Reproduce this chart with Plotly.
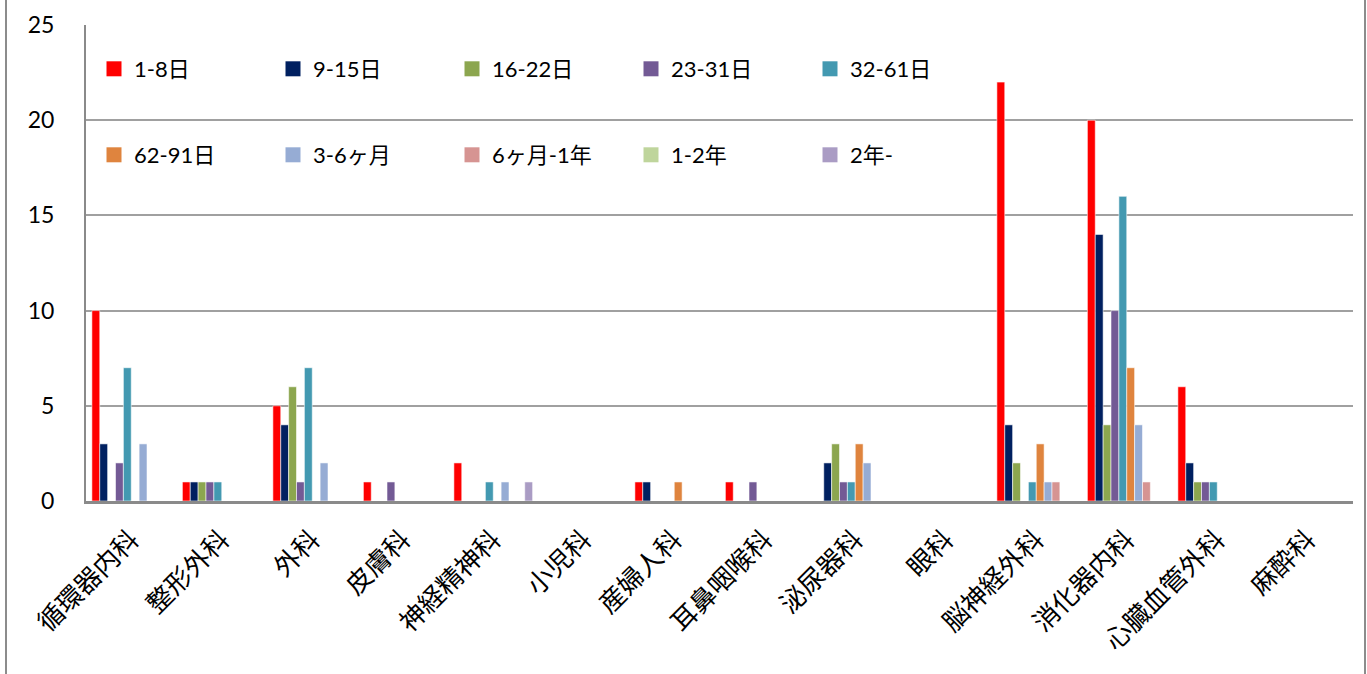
import plotly.graph_objects as go

categories = ["循環器内科", "整形外科", "外科", "皮膚科", "神経精神科", "小児科", "産婦人科",
              "耳鼻咽喉科", "泌尿器科", "眼科", "脳神経外科", "消化器内科", "心臓血管外科", "麻酔科"]

series_names = ["1-8日", "9-15日", "16-22日", "23-31日", "32-61日",
                "62-91日", "3-6ヶ月", "6ヶ月-1年", "1-2年", "2年-"]

s_1_8 =     [10, 1, 5, 1, 2, 0, 1, 1, 0, 0, 22, 20, 6, 0]
s_9_15 =    [3, 1, 4, 0, 0, 0, 1, 0, 2, 0, 4, 14, 2, 0]
s_16_22 =   [0, 1, 6, 0, 0, 0, 0, 0, 3, 0, 2, 4, 1, 0]
s_23_31 =   [2, 1, 1, 1, 0, 0, 0, 1, 1, 0, 0, 10, 1, 0]
s_32_61 =   [7, 1, 7, 0, 1, 0, 0, 0, 1, 0, 1, 16, 1, 0]
s_62_91 =   [0, 0, 0, 0, 0, 0, 1, 0, 3, 0, 3, 7, 0, 0]
s_3_6m =    [3, 0, 2, 0, 1, 0, 0, 0, 2, 0, 1, 4, 0, 0]
s_6m_1y =   [0, 0, 0, 0, 0, 0, 0, 0, 0, 0, 1, 1, 0, 0]
s_1_2y =    [0, 0, 0, 0, 0, 0, 0, 0, 0, 0, 0, 0, 0, 0]
s_2y_plus = [0, 0, 0, 0, 1, 0, 0, 0, 0, 0, 0, 0, 0, 0]

values = [s_1_8, s_9_15, s_16_22, s_23_31, s_32_61, s_62_91, s_3_6m, s_6m_1y, s_1_2y, s_2y_plus]
colors = ["#FF0000", "#002060", "#8CA64F", "#735A95", "#4399B1",
          "#DF843E", "#96ACD4", "#D69492", "#BFD59C", "#AA9CC4"]

y_ticks = [0, 5, 10, 15, 20, 25]

FONT = "Lato, 'Noto Sans CJK JP', sans-serif"
CJK = "'Noto Sans CJK JP', sans-serif"

fig = go.Figure()
for i, (name, vals, col) in enumerate(zip(series_names, values, colors)):
    leg = "legend" if i < 5 else "legend2"
    fig.add_trace(go.Bar(
        x=categories, y=vals, name=name, legendgroup=name, showlegend=False,
        marker=dict(color=col, line=dict(color="rgba(255,255,255,0.55)", width=1)),
    ))
    # legend entry with a larger square swatch
    fig.add_trace(go.Scatter(
        x=[None], y=[None], mode="markers", name=name, legendgroup=name,
        marker=dict(symbol="square", size=15, color=col), legend=leg,
    ))

W, H = 1367, 674
L, R, T, B = 86, 14, 25, 173
pw = W - L - R
ph = H - T - B

def px_x(x):
    return (x - L) / pw

def px_y(y):
    return (H - B - y) / ph

legend_common = dict(
    orientation="h", xanchor="left", yanchor="middle",
    entrywidth=134, entrywidthmode="pixels",
    font=dict(family=FONT, size=22, color="#000000"),
    bgcolor="rgba(0,0,0,0)", borderwidth=0, itemclick=False,
    traceorder="normal",
)

fig.update_layout(
    width=W, height=H,
    margin=dict(l=L, r=R, t=T, b=B, autoexpand=False),
    paper_bgcolor="#FFFFFF", plot_bgcolor="#FFFFFF",
    barmode="group", bargap=0.13, bargroupgap=0,
    legend=dict(x=px_x(94), y=px_y(69), **legend_common),
    legend2=dict(x=px_x(94), y=px_y(155), **legend_common),
    xaxis=dict(
        type="category", tickangle=-45,
        tickfont=dict(family=CJK, size=26, color="#000000"),
        showgrid=False, showline=True, linecolor="#8A8A8A", linewidth=3,
        ticks="", zeroline=False, ticklabelstandoff=10,
    ),
    yaxis=dict(
        range=[0, 25], tickvals=y_ticks, ticktext=[str(v) for v in y_ticks],
        tickfont=dict(family=FONT, size=23, color="#000000"),
        showgrid=True, gridcolor="#A0A0A0", gridwidth=2,
        showline=True, linecolor="#8A8A8A", linewidth=2,
        zeroline=False, ticks="", ticklabelstandoff=25,
    ),
    shapes=[
        dict(type="rect", xref="paper", yref="paper",
             x0=px_x(6), x1=px_x(1365), y0=px_y(H + 20), y1=px_y(-20),
             line=dict(color="#8C8C8C", width=2), fillcolor="rgba(0,0,0,0)", layer="below"),
    ],
)

fig.write_html(
    "out.html",
    config={"displayModeBar": False},
    post_script="document.body.style.margin='0';document.body.style.overflow='hidden';",
)
